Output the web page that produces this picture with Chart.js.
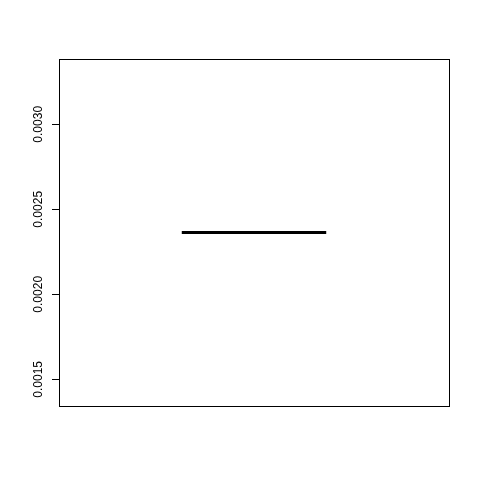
<!DOCTYPE html>
<html>
<head>
<meta charset="utf-8">
<script src="https://cdn.jsdelivr.net/npm/chart.js@4"></script>
<style>
html,body{margin:0;padding:0;background:#fff;}
#wrap{width:480px;height:480px;}
</style>
</head>
<body>
<div id="wrap"><canvas id="c" width="480" height="480"></canvas></div>
<script>
// Data
const categories = ['1'];
const medians = [0.002364];
const yTicks = [0.0015, 0.0020, 0.0025, 0.0030];
const yRange = [0.001343, 0.003384];
const xRange = [0.46, 1.54];

const halfBox = 0.2;
const datasets = categories.map((c, i) => ({
  label: c,
  data: [{x: i + 1 - halfBox, y: medians[i]}, {x: i + 1 + halfBox, y: medians[i]}],
  borderColor: '#000',
  borderWidth: 3,
  pointRadius: 0,
  showLine: true,
  fill: false
}));

const labelPlugin = {
  id: 'rlabels',
  afterDraw(chart) {
    const ctx = chart.ctx;
    const a = chart.chartArea;
    const ys = chart.scales.y;
    ctx.save();
    ctx.strokeStyle = '#000';
    ctx.lineWidth = 1;
    ctx.strokeRect(Math.round(a.left) + 0.5, Math.round(a.top) + 0.5,
                   Math.round(a.right - a.left), Math.round(a.bottom - a.top));
    ctx.fillStyle = '#000';
    ctx.font = '12px "Liberation Sans", Arial, sans-serif';
    ctx.textAlign = 'center';
    ctx.textBaseline = 'alphabetic';
    yTicks.forEach(v => {
      const py = ys.getPixelForValue(v);
      ctx.save();
      ctx.translate(a.left - 17, py);
      ctx.rotate(-Math.PI / 2);
      ctx.fillText(v.toFixed(4), 0, 0);
      ctx.restore();
    });
    ctx.restore();
  }
};

new Chart(document.getElementById('c'), {
  type: 'scatter',
  data: { datasets },
  options: {
    responsive: false,
    animation: false,
    layout: { padding: { left: 0, top: 59, right: 31, bottom: 74 } },
    plugins: { legend: { display: false }, tooltip: { enabled: false } },
    scales: {
      x: { type: 'linear', display: false, min: xRange[0], max: xRange[1] },
      y: {
        type: 'linear',
        min: yRange[0], max: yRange[1],
        afterBuildTicks(scale) { scale.ticks = yTicks.map(v => ({value: v})); },
        afterFit(scale) { scale.width = 59; },
        ticks: { display: false },
        grid: { drawOnChartArea: false, tickLength: 7, color: '#000', lineWidth: 1 },
        border: { display: true, color: '#000' }
      }
    }
  },
  plugins: [labelPlugin]
});
</script>
</body>
</html>
